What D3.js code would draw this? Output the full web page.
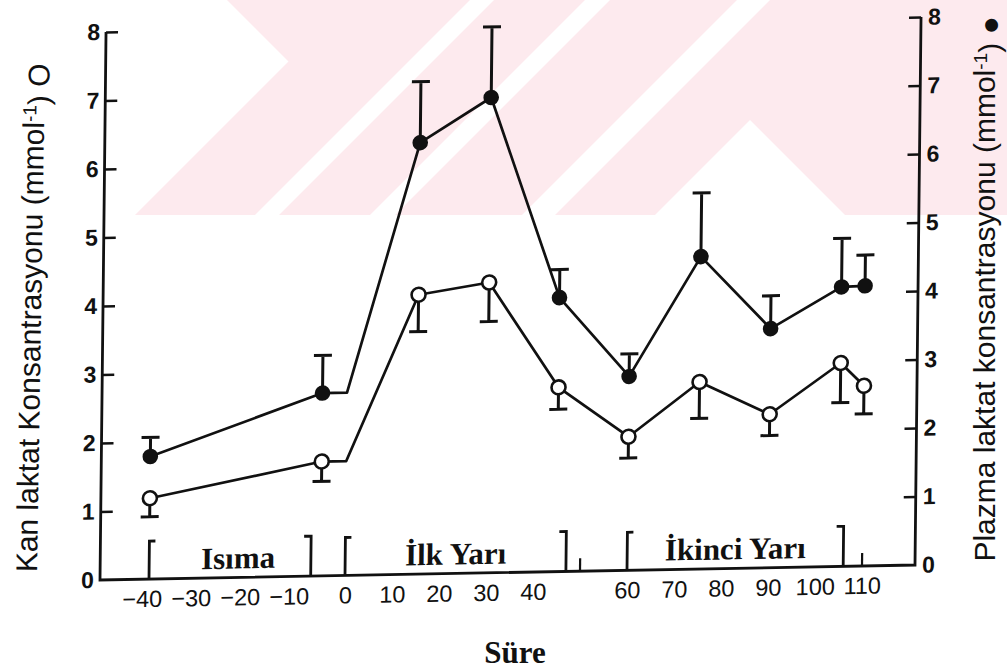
<!DOCTYPE html>
<html>
<head>
<meta charset="utf-8">
<script src="https://cdn.jsdelivr.net/npm/d3@7"></script>
<style>
  html, body { margin: 0; padding: 0; background: #fff; }
  svg { display: block; }
</style>
</head>
<body>
<svg id="chart" width="1007" height="671"></svg>
<script>
// Sampling times in minutes relative to kick-off
const times = [-40, -5, 15, 30, 45, 60, 75, 90, 105, 110];

// Blood lactate (open circles, left axis): mean and SE, mmol/l
const bloodLactate = [1.18, 1.67, 4.08, 4.24, 2.69, 1.95, 2.73, 2.24, 2.97, 2.63];
const bloodSE      = [0.27, 0.29, 0.54, 0.57, 0.32, 0.31, 0.53, 0.31, 0.58, 0.41];

// Plasma lactate (filled circles, right axis): mean and SE, mmol/l
const plasmaLactate = [1.79, 2.67, 6.30, 6.94, 4.00, 2.83, 4.56, 3.49, 4.08, 4.09];
const plasmaSE      = [0.28, 0.55, 0.89, 1.03, 0.41, 0.33, 0.93, 0.48, 0.71, 0.45];

// Axis ticks
const xTickValues = [-40, -30, -20, -10, 0, 10, 20, 30, 40, 60, 70, 80, 90, 100, 110];
const yTickValues = [0, 1, 2, 3, 4, 5, 6, 7, 8];

// Match periods shown as brackets along the time axis
const periodLabels = ["Isıma", "İlk Yarı", "İkinci Yarı"];
const periodStart  = [-40, 0, 60];
const periodEnd    = [-7, 47, 106];
const halfEndMarks = [50, 110];

const kickOff = 0;

const svg = d3.select("#chart");
const W = 815, H = 548;

// ---- background watermark (pale red chevron pattern, top band) ----
const wm = svg.append("g");
const bandBottom = 215;
const wmPink = "#fdeaee";
wm.append("polygon")
  .attr("points", [[227, 0], [288.5, 61.5], [135, bandBottom], [1007, bandBottom], [1007, 0]].join(" "))
  .attr("fill", wmPink);
function slashStripe(a, b) {
  return [[a, 0], [b, 0], [b - bandBottom, bandBottom], [a - bandBottom, bandBottom]];
}
[[470, 494], [585, 610], [737, 770]].forEach(s => {
  wm.append("polygon").attr("points", slashStripe(s[0], s[1]).join(" ")).attr("fill", "#fff");
});
// inverted-V notch
wm.append("polygon")
  .attr("points", [[750, 120], [655, bandBottom], [845, bandBottom]].join(" "))
  .attr("fill", "#fff");

// ---- plot frame (slightly sheared, as on the printed page) ----
const g = svg.append("g")
  .attr("transform", `matrix(1,-0.0184,-0.011,1,100,580) translate(0,${-H})`);

const x = d3.scaleLinear().domain([-40, 0, 110]).range([49, 245, 762]);
const yL = d3.scaleLinear().domain([0, 8]).range([H, 0]);
const yR = d3.scaleLinear().domain([0, 8]).range([H, 0]);

const ink = "#111";
const sans = "'Liberation Sans', Arial, Helvetica, sans-serif";

// left axis
const leftAxis = d3.axisLeft(yL).tickValues(yTickValues).tickSize(-12).tickPadding(6)
  .tickFormat(d3.format("d"));
const gl = g.append("g").call(leftAxis);
gl.select(".domain").remove();
gl.selectAll(".tick line").attr("stroke", ink).attr("stroke-width", 2.4)
  .filter(d => d === 0).remove();
gl.selectAll(".tick text").attr("fill", ink)
  .style("font-family", sans)
  .style("font-size", "23px").style("font-weight", "bold");

// right axis
const rightAxis = d3.axisRight(yR).tickValues(yTickValues).tickSize(-12).tickPadding(7)
  .tickFormat(d3.format("d"));
const gr = g.append("g").attr("transform", `translate(${W},0)`).call(rightAxis);
gr.select(".domain").remove();
gr.selectAll(".tick line").attr("stroke", ink).attr("stroke-width", 2.4)
  .filter(d => d === 0).remove();
gr.selectAll(".tick text").attr("fill", ink)
  .style("font-family", sans)
  .style("font-size", "23px").style("font-weight", "bold");

// frame lines: both vertical axes and the time axis
g.append("path")
  .attr("d", `M0,${yL(8)} V${H} H${W} V${yR(8)}`)
  .attr("fill", "none").attr("stroke", ink).attr("stroke-width", 2.8);

// time axis labels
const bottomAxis = d3.axisBottom(x).tickValues(xTickValues).tickSize(0).tickPadding(28)
  .tickFormat(d => d < 0 ? "\u2212" + Math.abs(d) : String(d));
const gb = g.append("g").attr("transform", `translate(0,${H})`).call(bottomAxis);
gb.select(".domain").remove();
gb.selectAll(".tick text").attr("fill", ink)
  .attr("dy", "0")
  .attr("dx", d => d < 0 ? "-0.3em" : "0")
  .style("font-family", sans)
  .style("font-size", "23.5px");

// period brackets
const brackets = g.append("g").attr("stroke", ink).attr("stroke-width", 2.8).attr("fill", "none");
periodLabels.forEach((lab, i) => {
  const x0 = x(periodStart[i]), x1 = x(periodEnd[i]);
  brackets.append("path").attr("d", `M${x0 + 6},${H - 38} H${x0} V${H}`);
  brackets.append("path").attr("d", `M${x1 - 7},${H - 40} H${x1} V${H}`);
  g.append("text")
    .attr("x", (x0 + x1) / 2 + (i === 0 ? 8 : 0)).attr("y", H - 9)
    .attr("text-anchor", "middle")
    .attr("fill", ink)
    .style("font-family", "'Liberation Serif', 'Times New Roman', serif")
    .style("font-size", "31px").style("font-weight", "bold")
    .text(lab);
});
halfEndMarks.forEach(t => {
  brackets.append("path").attr("d", `M${x(t)},${H - 13} V${H - 1}`).attr("stroke-width", 2.2);
});

// series lines: warm-up value is held flat until kick-off
function linePoints(vals, y) {
  const pts = [];
  times.forEach((t, i) => {
    pts.push([x(t), y(vals[i])]);
    if (t < kickOff && (i + 1 < times.length) && times[i + 1] > kickOff) {
      pts.push([x(kickOff), y(vals[i])]);
    }
  });
  return pts;
}
const line = d3.line();
g.append("path").attr("d", line(linePoints(plasmaLactate, yR)))
  .attr("fill", "none").attr("stroke", ink).attr("stroke-width", 2.7).attr("stroke-linejoin", "round");
g.append("path").attr("d", line(linePoints(bloodLactate, yL)))
  .attr("fill", "none").attr("stroke", ink).attr("stroke-width", 2.7).attr("stroke-linejoin", "round");

// error bars: plasma upward, blood downward
const cap = 9;
const eb = g.append("g").attr("stroke", ink).attr("stroke-width", 3).attr("fill", "none");
times.forEach((t, i) => {
  const cx = x(t);
  const top = yR(plasmaLactate[i] + plasmaSE[i]);
  eb.append("path").attr("d", `M${cx},${yR(plasmaLactate[i])} V${top} M${cx - cap},${top} H${cx + cap}`);
  const bot = yL(bloodLactate[i] - bloodSE[i]);
  eb.append("path").attr("d", `M${cx},${yL(bloodLactate[i])} V${bot} M${cx - cap},${bot} H${cx + cap}`);
});

// markers
g.append("g").selectAll("circle").data(times).join("circle")
  .attr("cx", d => x(d)).attr("cy", (d, i) => yR(plasmaLactate[i]))
  .attr("r", 7.8).attr("fill", ink);
g.append("g").selectAll("circle").data(times).join("circle")
  .attr("cx", d => x(d)).attr("cy", (d, i) => yL(bloodLactate[i]))
  .attr("r", 7).attr("fill", "#fff").attr("stroke", ink).attr("stroke-width", 2.6);

// axis titles
function axisTitle(tx, ty, rot, main, marker) {
  const t = svg.append("text")
    .attr("transform", `translate(${tx},${ty}) rotate(${rot})`)
    .attr("text-anchor", "middle")
    .attr("fill", ink)
    .style("font-family", sans).style("font-size", "30px");
  t.append("tspan").text(main + " (mmol");
  t.append("tspan").attr("dy", "-0.42em").style("font-size", "19px").text("-1");
  t.append("tspan").attr("dy", "0.42em").text(") ");
  t.append("tspan").text(marker);
  return t;
}
axisTitle(41, 318, -89.1, "Kan laktat Konsantrasyonu", "O");
axisTitle(995, 289, -90, "Plazma laktat konsantrasyonu", "\u25CF");

svg.append("text")
  .attr("x", 515).attr("y", 663)
  .attr("text-anchor", "middle")
  .attr("fill", ink)
  .style("font-family", "'Liberation Serif', 'Times New Roman', serif")
  .style("font-size", "31px").style("font-weight", "bold")
  .text("Süre");
</script>
</body>
</html>
